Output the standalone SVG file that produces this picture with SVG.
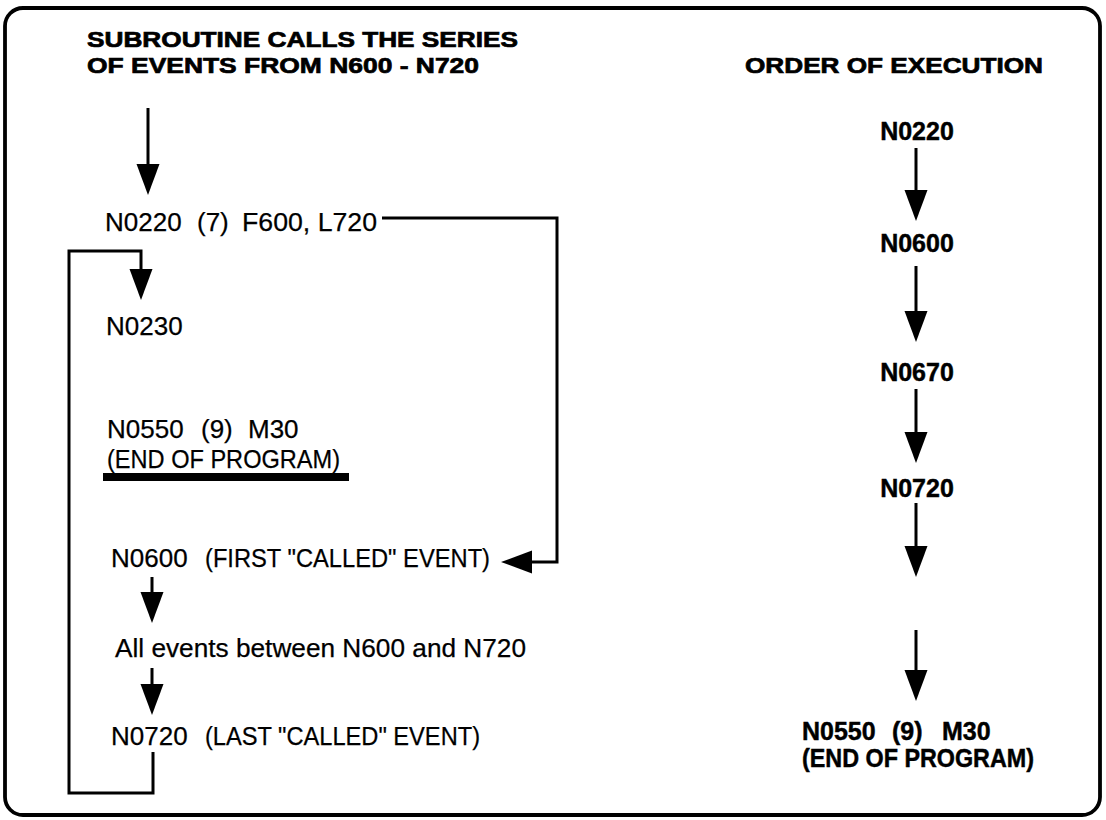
<svg xmlns="http://www.w3.org/2000/svg" width="1106" height="820" viewBox="0 0 1106 820">
<defs>
<style>
text{font-family:"Liberation Sans",Arial,Helvetica,sans-serif;fill:#000;stroke:#000}
.r{font-size:26px;stroke-width:0.25}
.b{font-size:25px;font-weight:bold;stroke-width:0.45}
.h{font-size:22px;font-weight:bold;stroke-width:0.7}
.c{fill:none;stroke:#000;stroke-width:3;stroke-linejoin:miter}
</style>
<marker id="ah" markerUnits="userSpaceOnUse" markerWidth="32" markerHeight="24" refX="11" refY="11.5" orient="auto">
<path d="M0,0 L31,11.5 L0,23 z" fill="#000"/>
</marker>
</defs>
<rect x="5" y="8" width="1095" height="807" rx="18" ry="18" fill="#fff" stroke="#000" stroke-width="3.8"/>

<g id="title-left">
<text class="h" x="87" y="47" textLength="431" lengthAdjust="spacingAndGlyphs">SUBROUTINE CALLS THE SERIES</text>
<text class="h" x="87" y="73" textLength="392" lengthAdjust="spacingAndGlyphs">OF EVENTS FROM N600 - N720</text>
</g>
<g id="title-right">
<text class="h" x="745" y="73" textLength="298" lengthAdjust="spacingAndGlyphs">ORDER OF EXECUTION</text>
</g>

<g id="n0220">
<text class="r" y="231"><tspan x="105">N0220</tspan><tspan x="197">(7)</tspan><tspan x="242" textLength="135" lengthAdjust="spacingAndGlyphs">F600, L720</tspan></text>
</g>
<g id="n0230">
<text class="r" x="106" y="335">N0230</text>
</g>
<g id="n0550">
<text class="r" y="438"><tspan x="107">N0550</tspan><tspan x="201">(9)</tspan><tspan x="248">M30</tspan></text>
<text class="r" x="107" y="468" textLength="233" lengthAdjust="spacingAndGlyphs">(END OF PROGRAM)</text>
<rect x="103" y="473" width="246" height="8" fill="#000"/>
</g>
<g id="n0600">
<text class="r" y="567"><tspan x="111">N0600</tspan><tspan x="205" textLength="285" lengthAdjust="spacingAndGlyphs">(FIRST "CALLED" EVENT)</tspan></text>
</g>
<g id="all-events">
<text class="r" x="115" y="657" textLength="411" lengthAdjust="spacingAndGlyphs">All events between N600 and N720</text>
</g>
<g id="n0720">
<text class="r" y="745"><tspan x="111">N0720</tspan><tspan x="205" textLength="275" lengthAdjust="spacingAndGlyphs">(LAST "CALLED" EVENT)</tspan></text>
</g>

<g id="order-n0220"><text class="b" x="917" y="140" text-anchor="middle">N0220</text></g>
<g id="order-n0600"><text class="b" x="917" y="252" text-anchor="middle">N0600</text></g>
<g id="order-n0670"><text class="b" x="917" y="381" text-anchor="middle">N0670</text></g>
<g id="order-n0720"><text class="b" x="917" y="497" text-anchor="middle">N0720</text></g>
<g id="order-n0550">
<text class="b" y="740"><tspan x="802">N0550</tspan><tspan x="892">(9)</tspan><tspan x="942">M30</tspan></text>
<text class="b" x="802" y="767" textLength="232" lengthAdjust="spacingAndGlyphs">(END OF PROGRAM)</text>
</g>

<g id="connectors">
<path class="c" d="M148,108 V175" marker-end="url(#ah)"/>
<path class="c" d="M382,218 H557 V562 H521" marker-end="url(#ah)"/>
<path class="c" d="M153,752 V793 H69 V251 H141 V280" marker-end="url(#ah)"/>
<path class="c" d="M152,577 V603" marker-end="url(#ah)"/>
<path class="c" d="M152,668 V695" marker-end="url(#ah)"/>
<path class="c" d="M916,148 V201" marker-end="url(#ah)"/>
<path class="c" d="M916,266 V322" marker-end="url(#ah)"/>
<path class="c" d="M916,389 V443" marker-end="url(#ah)"/>
<path class="c" d="M916,503 V557" marker-end="url(#ah)"/>
<path class="c" d="M916,630 V681" marker-end="url(#ah)"/>
</g>
</svg>
